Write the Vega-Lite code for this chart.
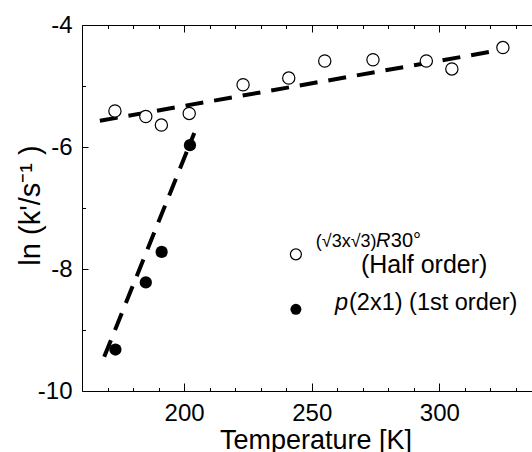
{
  "$schema": "https://vega.github.io/schema/vega-lite/v6.json",
  "width": 450,
  "height": 366,
  "autosize": {"type": "none"},
  "padding": {"left": 82, "top": 25, "right": 0, "bottom": 61},
  "background": "white",
  "config": {
    "view": {"stroke": null},
    "font": "Liberation Sans",
    "axis": {
      "domainColor": "#000", "tickColor": "#000", "labelColor": "#000", "titleColor": "#000",
      "grid": false, "labelFont": "Liberation Sans", "titleFont": "Liberation Sans",
      "titleFontWeight": "normal", "domainWidth": 1, "tickWidth": 1
    }
  },
  "datasets": {
    "half": [
      {"T": 172.9, "v": -5.41}, {"T": 185.0, "v": -5.50}, {"T": 191.1, "v": -5.64},
      {"T": 202.0, "v": -5.45}, {"T": 223.1, "v": -4.98}, {"T": 241.0, "v": -4.87},
      {"T": 255.1, "v": -4.59}, {"T": 274.0, "v": -4.57}, {"T": 294.9, "v": -4.59},
      {"T": 304.9, "v": -4.72}, {"T": 324.9, "v": -4.37}
    ],
    "first": [
      {"T": 173.1, "v": -9.32}, {"T": 185.0, "v": -8.22}, {"T": 191.2, "v": -7.72}, {"T": 202.3, "v": -5.97}
    ],
    "fitHalf": [{"T": 167.0, "v": -5.57}, {"T": 324.0, "v": -4.41}],
    "fitFirst": [{"T": 168.7, "v": -9.44}, {"T": 204.0, "v": -5.77}],
    "legHalf": [{"T": 243.8, "v": -7.76}],
    "legFirst": [{"T": 243.8, "v": -8.66}],
    "l1root": [{"T": 251.6, "v": -7.645, "label": "(√3x√3)"}],
    "l1normal": [{"T": 281.0, "v": -7.645, "label": "30°"}],
    "l1italic": [{"T": 275.2, "v": -7.645, "label": "R"}],
    "l2": [{"T": 269.3, "v": -8.065, "label": "(Half order)"}],
    "l3normal": [{"T": 264.6, "v": -8.672, "label": "(2x1) (1st order)"}],
    "l3italic": [{"T": 259.1, "v": -8.672, "label": "p"}]
  },
  "layer": [
    {
      "data": {"name": "fitHalf"},
      "mark": {"type": "line", "color": "black", "strokeWidth": 4, "strokeDash": [18, 11]},
      "encoding": {
        "x": {"field": "T", "type": "quantitative", "scale": {"domain": [160, 336.3], "nice": false, "zero": false},
          "axis": {"orient": "bottom", "values": [200, 250, 300], "tickSize": -8, "labelFontSize": 24, "labelPadding": 18.2,
            "title": "Temperature [K]", "titleFontSize": 27, "titleX": 233.5, "titleY": 57, "titleBaseline": "alphabetic", "titleAlign": "center"}},
        "y": {"field": "v", "type": "quantitative", "scale": {"domain": [-10, -4], "nice": false, "zero": false},
          "axis": {"orient": "left", "values": [-10, -8, -6, -4], "tickSize": -6, "labelFontSize": 24, "labelPadding": 16,
            "labelExpr": "toString(datum.value)",
            "title": "ln (k'/s⁻¹ )", "titleFontSize": 29, "titleAngle": -90, "titleX": -52, "titleY": 180, "titleAlign": "center", "titleBaseline": "middle"}}
      }
    },
    {
      "data": {"name": "fitFirst"},
      "mark": {"type": "line", "color": "black", "strokeWidth": 4, "strokeDash": [18, 11]},
      "encoding": {
        "x": {"field": "T", "type": "quantitative", "scale": {"domain": [160, 336.3], "nice": false, "zero": false},
          "axis": {"orient": "bottom", "values": [170, 180, 190, 210, 220, 230, 240, 260, 270, 280, 290, 310, 320, 330], "tickSize": -3.5, "labels": false, "domain": false, "title": null}},
        "y": {"field": "v", "type": "quantitative", "scale": {"domain": [-10, -4], "nice": false, "zero": false},
          "axis": {"orient": "left", "values": [-9, -7, -5], "tickSize": -3.5, "labels": false, "domain": false, "title": null}}
      }
    },
    {
      "data": {"name": "half"},
      "mark": {"type": "point", "shape": "circle", "filled": true, "fill": "white", "stroke": "black", "strokeWidth": 1.2, "size": 150, "opacity": 1},
      "encoding": {
        "x": {"field": "T", "type": "quantitative", "scale": {"domain": [160, 336.3], "nice": false, "zero": false},
          "axis": {"orient": "top", "values": [170, 180, 190, 210, 220, 230, 240, 260, 270, 280, 290, 310, 320, 330], "tickSize": -3.5, "labels": false, "domain": true, "title": null}},
        "y": {"field": "v", "type": "quantitative", "scale": {"domain": [-10, -4], "nice": false, "zero": false}, "axis": null}
      }
    },
    {
      "data": {"name": "first"},
      "mark": {"type": "point", "shape": "circle", "filled": true, "color": "black", "size": 150, "opacity": 1},
      "encoding": {
        "x": {"field": "T", "type": "quantitative", "scale": {"domain": [160, 336.3], "nice": false, "zero": false},
          "axis": {"orient": "top", "values": [200, 250, 300], "tickSize": -7, "labels": false, "domain": false, "title": null}},
        "y": {"field": "v", "type": "quantitative", "scale": {"domain": [-10, -4], "nice": false, "zero": false}, "axis": null}
      }
    },
    {
      "data": {"name": "legHalf"},
      "mark": {"type": "point", "shape": "circle", "filled": true, "fill": "white", "stroke": "black", "strokeWidth": 1.2, "size": 120, "opacity": 1},
      "encoding": {
        "x": {"field": "T", "type": "quantitative", "axis": null},
        "y": {"field": "v", "type": "quantitative", "axis": null}
      }
    },
    {
      "data": {"name": "legFirst"},
      "mark": {"type": "point", "shape": "circle", "filled": true, "color": "black", "size": 120, "opacity": 1},
      "encoding": {
        "x": {"field": "T", "type": "quantitative", "axis": null},
        "y": {"field": "v", "type": "quantitative", "axis": null}
      }
    },
    {
      "data": {"name": "l1root"},
      "mark": {"type": "text", "align": "left", "baseline": "alphabetic", "fontSize": 18, "font": "Liberation Sans", "color": "black"},
      "encoding": {
        "x": {"field": "T", "type": "quantitative", "axis": null},
        "y": {"field": "v", "type": "quantitative", "axis": null},
        "text": {"field": "label"}
      }
    },
    {
      "data": {"name": "l1normal"},
      "mark": {"type": "text", "align": "left", "baseline": "alphabetic", "fontSize": 20, "font": "Liberation Sans", "color": "black"},
      "encoding": {
        "x": {"field": "T", "type": "quantitative", "axis": null},
        "y": {"field": "v", "type": "quantitative", "axis": null},
        "text": {"field": "label"}
      }
    },
    {
      "data": {"name": "l1italic"},
      "mark": {"type": "text", "align": "left", "baseline": "alphabetic", "fontSize": 20, "fontStyle": "italic", "font": "Liberation Sans", "color": "black"},
      "encoding": {
        "x": {"field": "T", "type": "quantitative", "axis": null},
        "y": {"field": "v", "type": "quantitative", "axis": null},
        "text": {"field": "label"}
      }
    },
    {
      "data": {"name": "l2"},
      "mark": {"type": "text", "align": "left", "baseline": "alphabetic", "fontSize": 25, "font": "Liberation Sans", "color": "black"},
      "encoding": {
        "x": {"field": "T", "type": "quantitative", "axis": null},
        "y": {"field": "v", "type": "quantitative", "axis": null},
        "text": {"field": "label"}
      }
    },
    {
      "data": {"name": "l3normal"},
      "mark": {"type": "text", "align": "left", "baseline": "alphabetic", "fontSize": 23.5, "font": "Liberation Sans", "color": "black"},
      "encoding": {
        "x": {"field": "T", "type": "quantitative", "axis": null},
        "y": {"field": "v", "type": "quantitative", "axis": null},
        "text": {"field": "label"}
      }
    },
    {
      "data": {"name": "l3italic"},
      "mark": {"type": "text", "align": "left", "baseline": "alphabetic", "fontSize": 23.5, "fontStyle": "italic", "font": "Liberation Sans", "color": "black"},
      "encoding": {
        "x": {"field": "T", "type": "quantitative", "axis": null},
        "y": {"field": "v", "type": "quantitative", "axis": null},
        "text": {"field": "label"}
      }
    }
  ],
  "resolve": {"axis": {"x": "independent", "y": "independent"}}
}
